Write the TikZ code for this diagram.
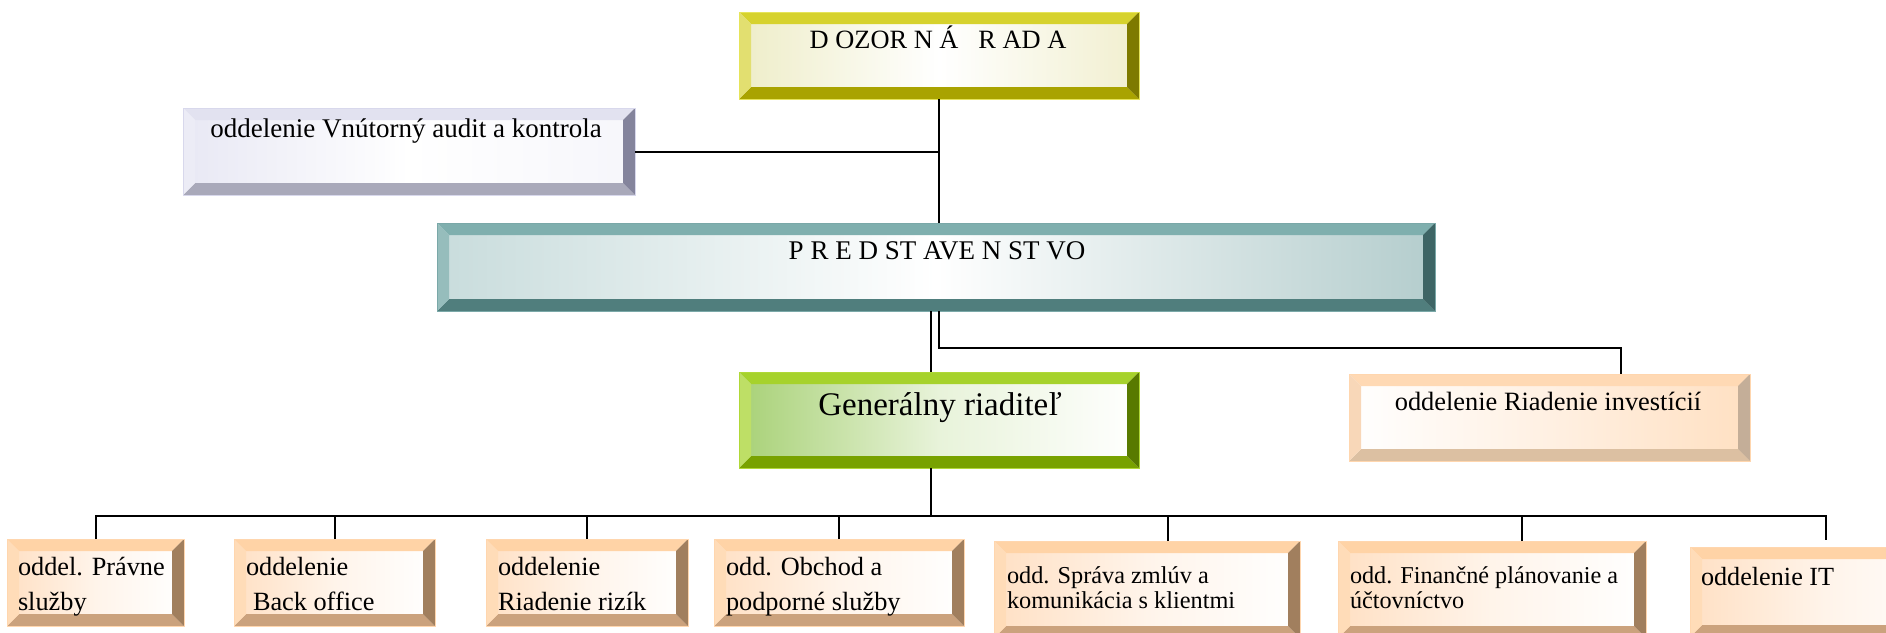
\documentclass[tikz,border=0pt]{standalone}
\usepackage{fontspec}
\setmainfont{Liberation Serif}
\usetikzlibrary{calc}
% bevel colours
\definecolor{dztop}{HTML}{D6D22E}\definecolor{dzleft}{HTML}{E2DF70}\definecolor{dzright}{HTML}{7E7A00}\definecolor{dzbot}{HTML}{A9A300}
\definecolor{dzinA}{HTML}{EEEDC8}\definecolor{dzinB}{HTML}{FFFFFF}\definecolor{dzinC}{HTML}{F1EFCF}\definecolor{dzline}{HTML}{E6E45A}
\definecolor{autop}{HTML}{E2E2F0}\definecolor{auleft}{HTML}{ECECF6}\definecolor{auright}{HTML}{84849C}\definecolor{aubot}{HTML}{A9A9BA}
\definecolor{auinA}{HTML}{E8E8F4}\definecolor{auinB}{HTML}{FFFFFF}\definecolor{auinC}{HTML}{F6F6FB}\definecolor{auline}{HTML}{D8D8EC}
\definecolor{prtop}{HTML}{7FAFAE}\definecolor{prleft}{HTML}{96BDBC}\definecolor{prright}{HTML}{3E6565}\definecolor{prbot}{HTML}{507E7D}
\definecolor{prinA}{HTML}{C8DCDC}\definecolor{prinB}{HTML}{FFFFFF}\definecolor{prinC}{HTML}{B4CDCD}\definecolor{prline}{HTML}{7AA8A8}
\definecolor{grtop}{HTML}{A6D22C}\definecolor{grleft}{HTML}{BEDF66}\definecolor{grright}{HTML}{587A00}\definecolor{grbot}{HTML}{78A200}
\definecolor{grinA}{HTML}{A8D176}\definecolor{grinB}{HTML}{E8F3DA}\definecolor{grinC}{HTML}{FFFFFF}\definecolor{grline}{HTML}{B0D838}
\definecolor{ortop}{HTML}{FFD3A6}\definecolor{orleft}{HTML}{FFDCB8}\definecolor{orright}{HTML}{A17F5E}\definecolor{orbot}{HTML}{CBA27D}
\definecolor{orinA}{HTML}{FFE0C4}\definecolor{orinB}{HTML}{FFF4EA}\definecolor{orinC}{HTML}{FFFFFF}\definecolor{orline}{HTML}{FFD6AE}
\definecolor{ritop}{HTML}{FFD9B4}\definecolor{rileft}{HTML}{F8D7B8}\definecolor{riright}{HTML}{C4AE98}\definecolor{ribot}{HTML}{DCC0A2}
\definecolor{riinA}{HTML}{FFFFFF}\definecolor{riinB}{HTML}{FFF0E2}\definecolor{riinC}{HTML}{FFE0C2}\definecolor{riline}{HTML}{FFD6AE}
\newcommand\fsz[2]{\fontsize{#1}{#2}\selectfont}
\newcommand\twol[2]{\begin{tabular}[t]{@{}l@{}}#1\\#2\end{tabular}}
\def\bw{12pt}
\tikzset{
  bev/.style={rectangle, inner sep=0pt, outer sep=0pt, draw=#1line, line width=0.8pt,
    path picture={
      \coordinate (bvsw) at (path picture bounding box.south west);
      \coordinate (bvne) at (path picture bounding box.north east);
      \coordinate (bvnw) at (path picture bounding box.north west);
      \coordinate (bvse) at (path picture bounding box.south east);
      \shade[left color=#1inA, right color=#1inC, middle color=#1inB] (bvsw) rectangle (bvne);
      \fill[#1top] (bvnw) -- (bvne) -- ([shift={(-\bw,-\bw)}]bvne) -- ([shift={(\bw,-\bw)}]bvnw) -- cycle;
      \fill[#1bot] (bvsw) -- (bvse) -- ([shift={(-\bw,\bw)}]bvse) -- ([shift={(\bw,\bw)}]bvsw) -- cycle;
      \fill[#1left] (bvnw) -- (bvsw) -- ([shift={(\bw,\bw)}]bvsw) -- ([shift={(\bw,-\bw)}]bvnw) -- cycle;
      \fill[#1right] (bvne) -- (bvse) -- ([shift={(-\bw,\bw)}]bvse) -- ([shift={(-\bw,-\bw)}]bvne) -- cycle;
    }},
  txt/.style={inner sep=0pt, outer sep=0pt, text=black},
  conn/.style={draw=black, line width=2pt},
}
\begin{document}
\begin{tikzpicture}[x=1pt, y=-1pt]
\useasboundingbox (0,0) rectangle (1886,632);
\begin{scope}
\clip (0,0) rectangle (1886,632);
% boxes
\node[bev=dz, minimum width=400pt, minimum height=87pt] (dz) at (939,55.5) {};
\node[bev=au, minimum width=452pt, minimum height=87pt] (au) at (409,151.5) {};
\node[bev=pr, minimum width=998pt, minimum height=88pt] (pr) at (936,267) {};
\node[bev=gr, minimum width=400pt, minimum height=96pt] (gr) at (939,420) {};
\node[bev=ri, minimum width=401pt, minimum height=87pt] (ri) at (1549.5,417.5) {};
\node[bev=or, minimum width=177pt, minimum height=87pt] (b1) at (95.5,582.5) {};
\node[bev=or, minimum width=201pt, minimum height=87pt] (b2) at (334.5,582.5) {};
\node[bev=or, minimum width=202pt, minimum height=87pt] (b3) at (587,582.5) {};
\node[bev=or, minimum width=250pt, minimum height=87pt] (b4) at (839,582.5) {};
\node[bev=or, minimum width=306pt, minimum height=97pt] (b5) at (1147,589.5) {};
\node[bev=or, minimum width=308pt, minimum height=97pt] (b6) at (1492,589.5) {};
\node[bev=or, minimum width=272pt, minimum height=90pt] (b7) at (1826,592) {};
% texts
\node[txt, font=\fsz{26.4}{30}, anchor=base] (dzt) at (938,48) {D OZOR N Á\ \ \ R AD A};
\node[txt, font=\fsz{27}{30}, anchor=base] (aut) at (406,137) {oddelenie Vnútorný audit a kontrola};
\node[txt, font=\fsz{27}{30}, anchor=base] (prt) at (937,259) {P R E D ST AVE N ST VO};
\node[txt, font=\fsz{33}{36}, anchor=base] (grt) at (940,415) {Generálny riaditeľ};
\node[txt, font=\fsz{26.4}{30}, anchor=base] (rit) at (1548,410) {oddelenie Riadenie investícií};
\node[txt, font=\fsz{26.3}{35}, anchor=base west] (b1t) at (18,575) {\twol{oddel. Právne}{služby}};
\node[txt, font=\fsz{26.3}{35}, anchor=base west] (b2t) at (246,575) {\twol{oddelenie}{\hspace*{7pt}Back office}};
\node[txt, font=\fsz{26.3}{35}, anchor=base west] (b3t) at (498,575) {\twol{oddelenie}{Riadenie rizík}};
\node[txt, font=\fsz{26.3}{35}, anchor=base west] (b4t) at (726,575) {\twol{odd. Obchod a}{podporné služby}};
\node[txt, font=\fsz{24.3}{25}, anchor=base west] (b5t) at (1007,583) {\twol{odd. Správa zmlúv a}{komunikácia s klientmi}};
\node[txt, font=\fsz{24.2}{25}, anchor=base west] (b6t) at (1350,583) {\twol{odd. Finančné plánovanie a}{účtovníctvo}};
\node[txt, font=\fsz{26.2}{30}, anchor=base west] (b7t) at (1701,585) {oddelenie IT};
% connector helpers
\coordinate (gtop) at ([xshift=-8pt]gr.north);
\coordinate (gbot) at ([xshift=-8pt]gr.south);
\coordinate (rtop) at ([xshift=71.5pt]ri.north);
\coordinate (bus) at ([yshift=-48pt]gbot);
\coordinate (b5top) at ([xshift=21pt]b5.north);
\coordinate (b6top) at ([xshift=30pt]b6.north);
\coordinate (b7top) at ([yshift=7pt]b7.north);
% connectors
\draw[conn] (dz.south) -- (dz.south |- pr.north);
\draw[conn] (au.east) -- (au.east -| dz.south);
\draw[conn, line width=2.6pt] (gtop |- pr.south) -- (gtop);
\draw[conn] (dz.south |- pr.south) -- ++(0,37) -| (rtop);
\draw[conn, line width=2.6pt] (gbot) -- (gbot |- bus);
\draw[conn] (b1.north) |- (bus -| b7top) -- (b7top);
\draw[conn] (b2.north) -- (b2.north |- bus);
\draw[conn] (b3.north) -- (b3.north |- bus);
\draw[conn] (b4.north) -- (b4.north |- bus);
\draw[conn] (b5top) -- (b5top |- bus);
\draw[conn] (b6top) -- (b6top |- bus);
\end{scope}
\end{tikzpicture}
\end{document}
